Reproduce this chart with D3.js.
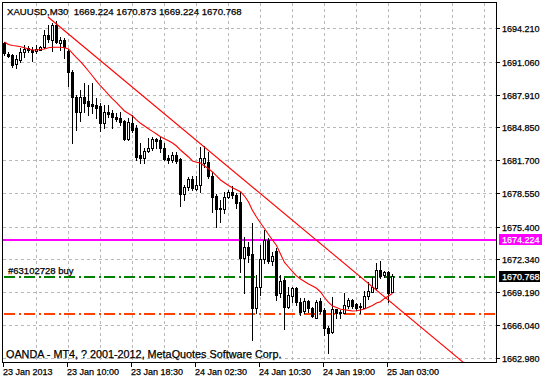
<!DOCTYPE html>
<html><head><meta charset="utf-8">
<script src="https://cdn.jsdelivr.net/npm/d3@7"></script>
<style>
html,body{margin:0;padding:0;background:#fff;}
svg{display:block;}
text{font-family:"Liberation Sans",Arial,sans-serif;white-space:pre;}
</style></head>
<body><svg id="c" width="542" height="379"></svg>
<script>
// ---- data ----
const symbolTitle = "XAUUSD,M30";
const lastBarOHLC = [1669.224, 1670.873, 1669.224, 1670.768];
const footerText = "OANDA - MT4, ? 2001-2012, MetaQuotes Software Corp.";
const orderLabel = "#63102728 buy";

const xTickBars = [0, 16, 32, 48, 64, 80, 96];
const xTickLabels = ["23 Jan 2013", "23 Jan 10:00", "23 Jan 18:30", "24 Jan 02:30", "24 Jan 10:30", "24 Jan 19:00", "25 Jan 03:00"];
const yTickValues = [1694.210, 1691.060, 1687.910, 1684.850, 1681.700, 1678.550, 1675.400, 1672.340, 1669.190, 1666.040, 1662.980];

const open = [1692.77,1691.82,1691.68,1690.82,1691.20,1691.96,1692.34,1692.20,1692.06,1692.20,
1692.44,1693.57,1693.10,1694.52,1692.86,1693.10,1692.06,1690.11,1687.74,1686.32,
1687.70,1687.32,1687.03,1686.94,1686.84,1685.20,1686.25,1686.21,1685.83,1685.68,
1685.42,1683.71,1685.20,1684.73,1682.20,1681.94,1682.58,1682.83,1683.69,1683.62,
1682.89,1681.94,1681.72,1682.20,1681.82,1678.50,1679.14,1679.89,1678.97,1679.35,
1681.41,1681.56,1680.21,1678.31,1677.05,1677.05,1678.25,1678.72,1678.41,1677.77,
1672.41,1673.51,1672.79,1667.72,1669.71,1672.34,1674.14,1672.15,1673.10,1669.09,
1670.35,1667.82,1668.86,1669.56,1668.29,1667.41,1668.36,1667.67,1666.78,1668.36,
1667.51,1665.77,1665.39,1667.60,1667.19,1667.19,1667.91,1668.45,1668.05,1667.76,
1667.72,1668.86,1669.24,1669.56,1671.30,1670.82,1671.08,1669.224];
const high = [1692.91,1691.96,1691.77,1691.68,1692.34,1692.62,1692.53,1692.44,1692.58,1692.53,
1694.05,1694.52,1694.71,1694.90,1693.38,1693.29,1692.29,1690.26,1687.89,1688.36,
1689.02,1688.83,1689.02,1687.60,1687.13,1686.94,1686.94,1686.46,1686.18,1686.30,
1685.52,1685.71,1685.99,1685.04,1683.31,1682.83,1683.78,1683.93,1683.84,1683.93,
1683.31,1682.20,1682.51,1682.51,1681.91,1679.35,1680.14,1680.21,1680.21,1682.98,
1683.08,1682.51,1680.59,1678.50,1677.93,1678.72,1678.88,1679.29,1678.57,1678.72,
1674.45,1673.98,1675.72,1670.82,1673.67,1675.09,1674.30,1672.97,1673.35,1670.82,
1670.54,1669.71,1669.71,1669.71,1668.64,1668.61,1668.45,1667.82,1668.45,1668.61,
1667.67,1665.99,1668.77,1667.60,1667.51,1669.09,1668.61,1668.55,1668.17,1668.14,
1669.31,1670.19,1670.66,1671.93,1672.15,1671.20,1671.20,1670.873];
const low = [1691.68,1691.49,1690.54,1690.44,1691.01,1691.49,1691.96,1691.11,1691.87,1692.15,
1692.34,1692.91,1692.06,1692.81,1692.15,1691.39,1688.74,1683.34,1684.57,1685.42,
1686.27,1685.99,1686.18,1685.71,1684.47,1684.73,1685.83,1684.73,1685.42,1685.04,
1683.62,1683.62,1684.41,1681.72,1681.41,1681.41,1682.45,1682.67,1682.83,1682.51,
1681.72,1681.41,1681.56,1681.41,1677.39,1677.93,1678.88,1678.88,1678.88,1678.72,
1681.09,1679.99,1676.82,1675.40,1675.88,1676.67,1678.15,1678.09,1677.15,1671.14,
1669.09,1672.08,1664.66,1667.19,1668.93,1671.93,1671.93,1671.77,1668.45,1668.74,
1665.70,1667.67,1668.29,1667.98,1667.03,1667.19,1667.34,1666.84,1666.72,1667.19,
1665.14,1663.40,1665.30,1666.72,1666.72,1667.19,1667.72,1667.72,1667.51,1667.19,
1667.67,1668.55,1669.18,1669.40,1670.51,1670.66,1668.29,1669.224];
const close = [1691.87,1691.63,1690.73,1691.30,1691.96,1692.29,1692.15,1691.96,1692.29,1692.44,
1693.57,1693.19,1694.57,1692.91,1693.10,1692.44,1690.11,1687.74,1686.32,1687.74,
1687.13,1686.84,1686.84,1686.65,1685.23,1686.30,1686.06,1685.83,1685.61,1685.35,
1683.71,1685.35,1684.57,1682.04,1681.94,1682.58,1682.89,1683.71,1683.52,1682.83,
1681.82,1681.72,1682.20,1681.63,1678.50,1679.14,1679.89,1679.04,1679.35,1681.89,
1681.89,1680.21,1678.25,1677.05,1677.22,1678.25,1678.72,1678.41,1677.62,1672.41,
1673.51,1672.72,1667.72,1669.71,1672.34,1674.14,1672.15,1672.65,1668.93,1670.25,
1667.82,1668.93,1669.56,1668.24,1667.34,1668.36,1667.67,1666.97,1668.29,1667.41,
1665.77,1665.30,1667.60,1667.19,1667.29,1667.98,1668.45,1667.91,1667.72,1667.88,
1668.86,1669.31,1669.71,1671.30,1670.76,1671.08,1669.09,1670.768];
const movingAverage = [1692.91,1692.67,1692.58,1692.53,1692.46,1692.36,1692.25,1692.15,1692.15,1692.20,
1692.25,1692.36,1692.41,1692.41,1692.41,1692.36,1692.25,1691.84,1691.44,1691.04,
1690.63,1690.16,1689.69,1689.21,1688.74,1688.36,1687.93,1687.51,1687.17,1686.75,
1686.37,1686.13,1685.89,1685.53,1685.20,1684.95,1684.69,1684.44,1684.19,1683.93,
1683.74,1683.55,1683.34,1683.05,1682.67,1682.34,1682.01,1681.63,1681.51,1681.44,
1681.16,1680.90,1680.59,1680.21,1679.83,1679.57,1679.31,1679.10,1678.91,1678.72,
1678.31,1677.74,1676.94,1676.32,1675.75,1675.23,1674.66,1674.14,1673.62,1672.81,
1672.01,1671.58,1671.15,1670.73,1670.44,1670.21,1669.97,1669.78,1669.56,1669.21,
1668.69,1668.22,1667.88,1667.74,1667.57,1667.52,1667.47,1667.41,1667.43,1667.51,
1667.60,1667.77,1667.93,1668.17,1668.29,1668.60,1668.83,1669.09];
const trendBars = [11, 115];
const trendPrices = [1695.28, 1662.48];
const alertLevel = 1674.224;
const orderLevel = 1670.768;
const stopLevel = 1667.20;

// ---- chart ----
const svg = d3.select("#c");
const L = 2, T = 2, R = 496, B = 362;
const x = d3.scaleLinear().domain([0, 123]).range([4, 496]);
const y = d3.scaleLinear().domain([1662.98, 1694.21]).range([357.7, 28.3]);
const X = v => Math.round(x(v));
const Y = v => Math.round(y(v));

svg.append("defs").append("clipPath").attr("id","clip")
  .append("rect").attr("x", L+1).attr("y", T+1).attr("width", R-L-1).attr("height", B-T-1);

// grid
const grid = svg.append("g").attr("stroke","#b8b8b8").attr("stroke-dasharray","3,3").attr("shape-rendering","crispEdges");
grid.selectAll("line.h").data(yTickValues).join("line")
  .attr("x1", L+1).attr("x2", R).attr("y1", d=>Y(d)+0.5).attr("y2", d=>Y(d)+0.5);
const vGrid = d3.range(8, 123, 8);
grid.selectAll("line.v").data(vGrid).join("line")
  .attr("x1", d=>X(d)+0.5).attr("x2", d=>X(d)+0.5).attr("y1", T+1).attr("y2", B);

// horizontal level lines
svg.append("rect").attr("x", L+1).attr("y", Y(alertLevel)).attr("width", R-L-1).attr("height", 2)
  .attr("fill","#ff00ff").attr("shape-rendering","crispEdges");
function dashDot(level, color) {
  const g = svg.append("g").attr("fill", color).attr("shape-rendering","crispEdges");
  const segs = [];
  for (let s = L + 2; s < R; s += 20) { segs.push([s, 11]); segs.push([s + 15, 2]); }
  g.selectAll("rect").data(segs.filter(d => d[0] < R)).join("rect")
    .attr("x", d => d[0]).attr("y", Y(level)).attr("width", d => Math.min(d[1], R - d[0])).attr("height", 2);
}
dashDot(orderLevel, "#008000");
dashDot(stopLevel, "#ff4000");

const plot = svg.append("g").attr("clip-path","url(#clip)");

// candles
const idx = d3.range(open.length);
const cg = plot.append("g").attr("shape-rendering","crispEdges");
idx.forEach(i => {
  const cx = X(i);
  const yh = Y(high[i]), yl = Y(low[i]);
  const yo = Y(open[i]), yc = Y(close[i]);
  cg.append("rect").attr("x", cx).attr("y", yh).attr("width", 1).attr("height", yl - yh + 1).attr("fill", "#000");
  const top = Math.min(yo, yc), bot = Math.max(yo, yc);
  cg.append("rect").attr("x", cx - 1).attr("y", top).attr("width", 3).attr("height", bot - top + 1).attr("fill", "#000");
  if (close[i] > open[i] && bot - top > 1) {
    cg.append("rect").attr("x", cx).attr("y", top + 1).attr("width", 1).attr("height", bot - top - 1).attr("fill", "#fff");
  }
});

// moving average
plot.append("path").datum(idx)
  .attr("d", d3.line().x(i => x(i) + 0.5).y(i => y(movingAverage[i])))
  .attr("fill","none").attr("stroke","#ff0000").attr("stroke-width",1.1);

// trend line
plot.append("path").datum(d3.range(trendBars.length))
  .attr("d", d3.line().x(k => x(trendBars[k])).y(k => y(trendPrices[k])))
  .attr("fill","none").attr("stroke","#ff0000").attr("stroke-width",1.1);

// frame
const fr = svg.append("g").attr("stroke","#000").attr("shape-rendering","crispEdges");
fr.append("line").attr("x1",L+0.5).attr("x2",L+0.5).attr("y1",T).attr("y2",B+1);
fr.append("line").attr("x1",R+0.5).attr("x2",R+0.5).attr("y1",T).attr("y2",B+1);
fr.append("line").attr("x1",L).attr("x2",R+1).attr("y1",T+0.5).attr("y2",T+0.5);
fr.append("line").attr("x1",L).attr("x2",R+1).attr("y1",B+0.5).attr("y2",B+0.5);

// y axis ticks & labels
const txtStroke = 0.25;
const yax = svg.append("g");
yax.selectAll("line").data(yTickValues).join("line")
  .attr("x1", R).attr("x2", R+4).attr("y1", d=>Y(d)+0.5).attr("y2", d=>Y(d)+0.5)
  .attr("stroke","#000").attr("shape-rendering","crispEdges");
yax.selectAll("text").data(yTickValues).join("text")
  .attr("x", R+6).attr("y", d=>Y(d)+4).attr("font-size","9px").attr("fill","#000")
  .attr("stroke","#000").attr("stroke-width",txtStroke)
  .text(d=>d3.format(".3f")(d));

// x axis ticks & labels
const xax = svg.append("g");
xax.selectAll("line").data(xTickBars).join("line")
  .attr("x1", d=>X(d)-0.5).attr("x2", d=>X(d)-0.5).attr("y1", B).attr("y2", B+5)
  .attr("stroke","#000").attr("shape-rendering","crispEdges");
xax.selectAll("text").data(xTickBars).join("text")
  .attr("x", d=>X(d)-1).attr("y", 375).attr("font-size","9px").attr("fill","#000")
  .attr("stroke","#000").attr("stroke-width",txtStroke)
  .text((d,k)=>xTickLabels[k]);

// price labels
function priceBox(v, bg, w) {
  const yy = Y(v);
  svg.append("rect").attr("x", R+3).attr("y", yy-5).attr("width", w).attr("height", 11).attr("fill", bg);
  svg.append("text").attr("x", R+6).attr("y", yy+4).attr("font-size","9px").attr("fill","#fff")
    .attr("stroke","#fff").attr("stroke-width",txtStroke).text(d3.format(".3f")(v));
}
priceBox(alertLevel, "#ff00ff", 43);
priceBox(orderLevel, "#000000", 41);

// texts
svg.append("text").attr("x", 7).attr("y", 15).attr("font-size","9.6px").attr("fill","#000")
  .attr("stroke","#000").attr("stroke-width",txtStroke)
  .text(symbolTitle + "  " + lastBarOHLC.map(d3.format(".3f")).join(" "));
svg.append("text").attr("x", 8).attr("y", 274).attr("font-size","9.5px").attr("fill","#000")
  .attr("stroke","#000").attr("stroke-width",txtStroke).text(orderLabel);
svg.append("text").attr("x", 6).attr("y", 358).attr("font-size","10.8px").attr("fill","#000")
  .attr("stroke","#000").attr("stroke-width",txtStroke).text(footerText);
</script></body></html>
